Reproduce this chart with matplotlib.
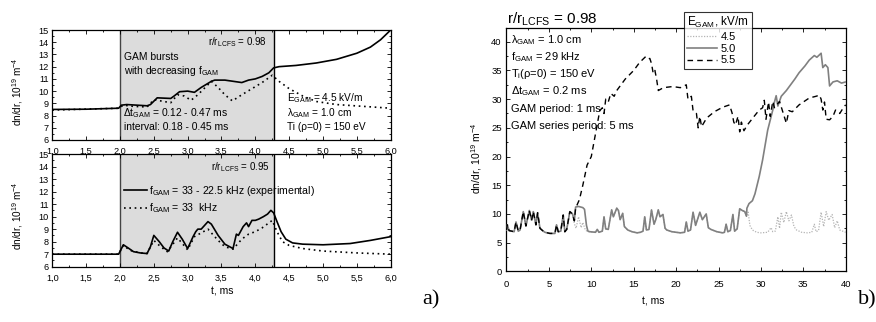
import numpy as np
import matplotlib
matplotlib.use("Agg")
import matplotlib.pyplot as plt
from matplotlib.ticker import FixedLocator, MultipleLocator

plt.rcParams['font.family'] = ['Liberation Sans', 'DejaVu Sans']
plt.rcParams['mathtext.fontset'] = 'custom'
plt.rcParams['mathtext.rm'] = 'Liberation Sans'
plt.rcParams['mathtext.it'] = 'Liberation Sans:italic'
plt.rcParams['mathtext.bf'] = 'Liberation Sans:bold'

# ---------------- data: panel a), top (r/rLCFS = 0.98) ----------------
top_solid_t = [1.0, 1.5, 1.98, 2.02, 2.1, 2.4, 2.45, 2.55, 2.75, 2.8, 2.88, 3.0, 3.1, 3.2,
               3.35, 3.4, 3.55, 3.8, 3.9, 4.0, 4.1, 4.2, 4.27, 4.35, 4.6, 4.9, 5.2, 5.5,
               5.7, 5.85, 6.0]
top_solid_y = [8.5, 8.52, 8.6, 8.85, 8.9, 8.8, 8.9, 9.45, 9.4, 9.6, 9.95, 10.0, 9.9, 10.3,
               10.8, 10.9, 10.9, 10.7, 10.9, 11.0, 11.2, 11.5, 11.9, 12.0, 12.1, 12.3, 12.6,
               13.1, 13.6, 14.2, 15.0]
top_dot_t = [1.0, 1.98, 2.05, 2.2, 2.4, 2.5, 2.6, 2.75, 2.85, 2.95, 3.05, 3.15, 3.35, 3.45,
             3.55, 3.66, 3.8, 3.95, 4.1, 4.25, 4.35, 4.5, 4.7, 4.9, 5.2, 5.6, 6.0]
top_dot_y = [8.45, 8.6, 8.85, 8.75, 8.7, 9.3, 9.2, 9.05, 9.7, 9.6, 9.25, 9.7, 10.8, 10.3,
             9.7, 9.2, 9.7, 10.2, 10.7, 11.3, 10.8, 10.2, 9.6, 9.15, 8.9, 8.75, 8.6]

# ---------------- data: panel a), bottom (r/rLCFS = 0.95) ----------------
bot_solid_t = [1.0, 1.98, 2.05, 2.12, 2.2, 2.3, 2.4, 2.45, 2.5, 2.58, 2.65, 2.72, 2.78, 2.85,
               2.92, 3.0, 3.08, 3.12, 3.15, 3.2, 3.3, 3.35, 3.45, 3.55, 3.67, 3.72, 3.75,
               3.82, 3.87, 3.9, 3.95, 4.0, 4.05, 4.12, 4.18, 4.23, 4.27, 4.32, 4.38, 4.45,
               4.55, 4.7, 5.0, 5.4, 5.7, 6.0]
bot_solid_y = [7.0, 7.0, 7.75, 7.5, 7.2, 7.1, 7.05, 7.6, 8.5, 8.0, 7.5, 7.25, 8.0, 8.75,
               8.2, 7.45, 8.4, 8.8, 9.0, 9.0, 9.6, 9.4, 8.5, 7.8, 7.45, 8.6, 8.5,
               9.2, 9.5, 9.2, 9.7, 9.7, 9.8, 10.0, 10.2, 10.5, 10.3, 9.6, 8.8, 8.2,
               7.9, 7.8, 7.75, 7.85, 8.1, 8.4]
bot_dot_t = [1.0, 1.98, 2.05, 2.15, 2.3, 2.4, 2.5, 2.6, 2.7, 2.85, 3.0, 3.1, 3.2, 3.3, 3.45,
             3.55, 3.67, 3.8, 3.9, 4.0, 4.1, 4.25, 4.32, 4.4, 4.5, 4.7, 5.0, 5.5, 6.0]
bot_dot_y = [7.0, 7.0, 7.7, 7.3, 7.1, 7.05, 8.1, 7.6, 7.2, 8.3, 7.35, 8.4, 8.7, 9.0, 8.1,
             7.6, 7.4, 8.2, 8.6, 8.8, 9.1, 9.7, 8.8, 8.0, 7.7, 7.45, 7.25, 7.1, 7.0]

gam_window = [2.0, 4.27]
a_xticks = [1.0, 1.5, 2.0, 2.5, 3.0, 3.5, 4.0, 4.5, 5.0, 5.5, 6.0]
a_top_xticklabels = ['1.0', '1.5', '2.0', '2.5', '3.0', '3.5', '4.0', '4.5', '5.0', '5.5', '6.0']
a_bot_xticklabels = ['1,0', '1,5', '2,0', '2,5', '3,0', '3,5', '4,0', '4,5', '5,0', '5,5', '6,0']
a_yticks = [6, 7, 8, 9, 10, 11, 12, 13, 14, 15]

# ---------------- data: panel b) ----------------
# shared burst pattern (all three E_GAM values) up to t = 28.3 ms
base_t = [0.0, 0.1, 0.3, 0.9, 1.12, 1.39, 1.6, 1.98, 2.29, 2.69, 2.96, 3.16, 3.47, 3.67,
          3.94, 4.25, 4.53, 5.12, 5.71, 5.9, 6.1, 6.4, 6.69, 6.88, 7.1, 7.47, 7.78,
          8.0, 8.15, 8.5, 9.0, 9.2, 9.43, 9.6, 9.82, 10.5, 10.7, 10.9, 11.3, 11.5, 11.7,
          12.0, 12.4, 12.6, 13.0, 13.2, 13.4, 13.7, 13.9, 14.3, 14.8, 15.4, 15.8, 16.1,
          16.3, 16.5, 16.8, 17.1, 17.4, 17.6, 17.9, 18.1, 18.45, 18.7, 18.9, 19.5, 20.5,
          21.0, 21.2, 21.4, 21.7, 22.0, 22.3, 22.8, 23.1, 23.55, 23.8, 24.1, 24.8, 25.5,
          25.7, 25.9, 26.1, 26.4, 26.7, 26.9, 27.2, 27.5, 27.8, 28.1, 28.3]
base_y = [7.2, 8.1, 7.1, 6.9, 8.6, 7.0, 7.2, 10.4, 7.9, 10.6, 8.9, 10.4, 8.1, 10.2,
          7.5, 7.1, 6.8, 6.6, 6.6, 8.1, 6.9, 7.0, 9.8, 6.9, 7.3, 10.4, 10.0,
          8.8, 11.2, 11.3, 11.1, 10.8, 8.0, 7.0, 6.9, 6.8, 7.3, 6.8, 7.0, 9.5, 7.4,
          7.3, 10.7, 9.5, 11.0, 10.6, 9.0, 10.1, 7.8, 7.2, 6.9, 6.7, 6.8, 7.0,
          9.5, 7.2, 7.3, 10.7, 8.2, 9.0, 10.7, 9.5, 9.9, 7.5, 7.2, 6.9, 6.7,
          6.8, 8.6, 7.0, 7.2, 10.3, 8.0, 10.3, 9.0, 10.0, 7.6, 7.3, 6.9, 6.7,
          6.8, 8.2, 6.9, 7.1, 9.9, 7.0, 7.4, 10.9, 10.6, 10.4, 9.6]

# E_GAM = 4.5 kV/m: own segments
e45_mid_t = [8.0, 8.2, 8.5, 8.8, 9.0, 9.3, 9.6]
e45_mid_y = [8.3, 7.5, 9.5, 7.6, 8.5, 7.2, 6.9]
e45_tail_t = [28.5, 28.7, 29.0, 29.5, 30.0, 30.8, 31.2, 31.4, 31.7, 32.0, 32.2, 32.4, 32.7,
              33.0, 33.3, 33.6, 33.9, 34.2, 34.8, 35.5, 36.0, 36.3, 36.5, 36.8, 37.1, 37.4,
              37.7, 38.0, 38.4, 38.7, 39.0, 39.3, 39.8, 40.0]
e45_tail_y = [10.3, 8.0, 7.2, 6.8, 6.7, 6.8, 7.6, 6.9, 7.0, 9.5, 7.5, 10.3, 8.5,
              10.4, 8.8, 9.8, 7.8, 7.2, 6.8, 6.7, 6.8, 8.2, 6.9, 7.1, 10.3, 7.8,
              10.4, 8.9, 9.9, 7.6, 8.8, 7.2, 6.9, 6.8]

# E_GAM = 5.0 kV/m: rise after t = 28.3 ms
e50_rise_t = [28.35, 28.6, 29.0, 29.3, 29.8, 30.2, 30.8, 31.4, 31.6, 31.8, 32.0, 32.4, 33.0,
              34.0, 34.5, 35.2, 35.7, 36.3, 36.6, 37.1, 37.3, 37.6, 37.9, 38.1, 38.5, 39.0,
              39.5, 40.0]
e50_rise_y = [11.0, 11.8, 12.3, 13.5, 16.5, 19.4, 24.6, 28.1, 29.5, 30.6, 28.8, 30.5, 31.5,
              33.5, 34.6, 35.8, 36.8, 37.6, 37.3, 38.0, 35.5, 36.0, 35.5, 32.3, 33.0, 33.2,
              32.8, 33.0]

# E_GAM = 5.5 kV/m: rise after t = 8 ms
e55_rise_t = [8.15, 8.6, 9.0, 9.5, 10.0, 10.5, 11.0, 11.3, 11.5, 11.7, 12.0, 12.3, 12.7,
              13.0, 14.0, 15.0, 15.7, 16.4, 16.7, 16.9, 17.1, 17.3, 17.5, 17.7, 17.9, 18.5,
              19.6, 20.5, 21.2, 21.4, 21.8, 22.0, 22.4, 22.6, 22.8, 23.0, 23.6, 24.5, 25.5,
              26.3, 26.6, 26.8, 27.0, 27.3, 27.5, 27.7, 28.0, 28.4, 29.2, 29.8, 30.2, 30.4,
              30.6, 30.9, 31.1, 31.4, 31.6, 32.2, 33.0, 33.3, 33.7, 34.5, 35.7, 36.5, 36.9,
              37.1, 37.3, 37.5, 37.7, 38.1, 38.5, 38.8, 39.3, 39.8, 40.0]
e55_rise_y = [11.0, 12.5, 15.0, 18.5, 20.0, 24.0, 28.0, 28.5, 27.5, 30.0, 29.5, 31.0, 30.5,
              31.5, 33.5, 35.0, 36.4, 37.4, 37.0, 37.1, 36.2, 34.5, 35.0, 33.5, 31.5, 32.0,
              32.2, 32.0, 32.5, 30.0, 30.5, 28.0, 27.5, 25.0, 27.0, 25.2, 26.7, 27.8, 28.6,
              29.0, 27.6, 26.0, 25.5, 27.0, 24.3, 26.0, 24.5, 25.5, 27.0, 28.1, 28.5, 29.8,
              26.5, 29.5, 27.0, 29.6, 28.5, 29.6, 25.8, 28.0, 27.8, 29.0, 30.2, 30.5, 30.7,
              30.0, 28.1, 29.5, 26.5, 26.4, 27.0, 28.1, 27.5, 28.7, 29.0]

e_labels = ['4.5', '5.0', '5.5']
b_xticks = [0, 5, 10, 15, 20, 25, 30, 35, 40]
b_yticks = [0, 5, 10, 15, 20, 25, 30, 35, 40]

# ---------------- build series from the pieces ----------------
n_mid = base_t.index(7.78) + 1
n_resume = base_t.index(9.82)
n_end45 = base_t.index(28.3) + 1
e45_t = base_t[:n_mid] + e45_mid_t + base_t[n_resume:n_end45] + e45_tail_t
e45_y = base_y[:n_mid] + e45_mid_y + base_y[n_resume:n_end45] + e45_tail_y
e50_t = base_t + e50_rise_t
e50_y = base_y + e50_rise_y
n55 = base_t.index(8.0) + 1
e55_t = base_t[:n55] + e55_rise_t
e55_y = base_y[:n55] + e55_rise_y

W, H = 876, 322
fig = plt.figure(figsize=(W / 100, H / 100), dpi=100)


def rect(l, t, r, b):
    return [l / W, 1 - b / H, (r - l) / W, (b - t) / H]


def fx(x):
    return x / W


def fy(y):
    return 1 - y / H


ax1 = fig.add_axes(rect(52.3, 30, 390.7, 140))
ax2 = fig.add_axes(rect(52.3, 154, 390.7, 266.7))
ax3 = fig.add_axes(rect(506.5, 28, 845.7, 271.3))

for ax in (ax1, ax2):
    ax.axvspan(gam_window[0], gam_window[1], facecolor='#dcdcdc', edgecolor='none', zorder=0)
    ax.axvline(gam_window[0], color='#444444', lw=1.0, zorder=1)
    ax.axvline(gam_window[1], color='black', lw=1.0, zorder=1)
    ax.set_xlim(1.0, 6.0)
    ax.set_ylim(6, 15)
    ax.xaxis.set_major_locator(FixedLocator(a_xticks))
    ax.xaxis.set_minor_locator(MultipleLocator(0.25))
    ax.yaxis.set_major_locator(FixedLocator(a_yticks))
    ax.yaxis.set_minor_locator(MultipleLocator(0.5))
    ax.set_yticklabels([str(v) for v in a_yticks])
    ax.tick_params(which='both', direction='in', top=True, right=True, width=0.6,
                   labelsize=6.6, colors='black')
    ax.tick_params(which='major', length=3)
    ax.tick_params(which='minor', length=1.5)
    ax.tick_params(axis='x', pad=5.0)
    ax.tick_params(axis='y', pad=2.5)
    for s in ax.spines.values():
        s.set_linewidth(0.9)

ax1.plot(top_solid_t, top_solid_y, color='black', lw=1.2, zorder=3)
ax1.plot(top_dot_t, top_dot_y, color='black', lw=1.2, ls=(0, (1, 2.2)), zorder=3)
ax1.set_xticklabels(a_top_xticklabels)

l1, = ax2.plot(bot_solid_t, bot_solid_y, color='black', lw=1.2, zorder=3)
l2, = ax2.plot(bot_dot_t, bot_dot_y, color='black', lw=1.2, ls=(0, (1, 2.2)), zorder=3)
ax2.set_xticklabels(a_bot_xticklabels)
ax2.legend([l1, l2], ['f$_{\\rm GAM}$ = 33 - 22.5 kHz (experimental)', 'f$_{\\rm GAM}$ = 33  kHz'],
           loc='upper left', bbox_to_anchor=(fx(124), fy(184)), bbox_transform=fig.transFigure,
           frameon=False, fontsize=7.6, handlelength=2.2, handletextpad=0.2,
           labelspacing=0.35, borderpad=0, borderaxespad=0)

ylab = 'dn/dr, 10$^{19}$ m$^{-4}$'
fig.text(fx(18), fy(92), ylab, rotation=90, ha='center', va='center', fontsize=7.2)
fig.text(fx(18), fy(216), ylab, rotation=90, ha='center', va='center', fontsize=7.2)
fig.text(fx(222), fy(292), 't, ms', ha='center', va='center', fontsize=7.4)

# annotations panel a) top
fig.text(fx(267), fy(42), 'r/r$_{\\rm LCFS}$ = 0.98', ha='right', va='center', fontsize=7)
fig.text(fx(124), fy(57), 'GAM bursts', ha='left', va='center', fontsize=7.4)
fig.text(fx(124), fy(71), 'with decreasing f$_{\\rm GAM}$', ha='left', va='center', fontsize=7.4)
fig.text(fx(123), fy(113), '\u0394t$_{\\rm GAM}$ = 0.12 - 0.47 ms', ha='left', va='center', fontsize=7.4)
fig.text(fx(124), fy(127), 'interval: 0.18 - 0.45 ms', ha='left', va='center', fontsize=7.4)
fig.text(fx(287), fy(98), 'E$_{\\rm GAM}$ = 4.5 kV/m', ha='left', va='center', fontsize=7.3)
fig.text(fx(287), fy(113), '\u03bb$_{\\rm GAM}$ = 1.0 cm', ha='left', va='center', fontsize=7.3)
fig.text(fx(287), fy(127), 'Ti (\u03c1=0) = 150 eV', ha='left', va='center', fontsize=7.3)
# annotation panel a) bottom
fig.text(fx(270), fy(167), 'r/r$_{\\rm LCFS}$ = 0.95', ha='right', va='center', fontsize=7)

# ---------------- panel b) ----------------
h45, = ax3.plot(e45_t, e45_y, color='#b4b4b4', lw=0.9, ls=(0, (1, 1.2)), zorder=2)
h50, = ax3.plot(e50_t, e50_y, color='#808080', lw=1.2, zorder=3)
h55, = ax3.plot(e55_t, e55_y, color='black', lw=1.0, ls=(0, (4, 3)), zorder=4)
ax3.set_xlim(0, 40)
ax3.set_ylim(0, 42.4)
ax3.xaxis.set_major_locator(FixedLocator(b_xticks))
ax3.yaxis.set_major_locator(FixedLocator(b_yticks))
ax3.xaxis.set_minor_locator(MultipleLocator(2.5))
ax3.yaxis.set_minor_locator(MultipleLocator(2.5))
ax3.set_xticklabels([str(v) for v in b_xticks])
ax3.set_yticklabels([str(v) for v in b_yticks])
ax3.tick_params(which='both', direction='in', top=True, right=True, width=0.6,
                labelsize=6.8, colors='black')
ax3.tick_params(which='major', length=3)
ax3.tick_params(which='minor', length=1.5)
ax3.tick_params(axis='x', pad=6)
ax3.tick_params(axis='y', pad=3.5)
for s in ax3.spines.values():
    s.set_linewidth(0.9)

fig.text(fx(477), fy(158), ylab, rotation=90, ha='center', va='center', fontsize=7.5)
fig.text(fx(653), fy(301), 't, ms', ha='center', va='center', fontsize=7.5)
fig.text(fx(507), fy(19), 'r/r$_{\\rm LCFS}$ = 0.98', ha='left', va='center', fontsize=11)

b_notes = ['\u03bb$_{\\rm GAM}$ = 1.0 cm', 'f$_{\\rm GAM}$ = 29 kHz', 'T$_{\\rm i}$(\u03c1=0) = 150 eV',
           '\u0394t$_{\\rm GAM}$ = 0.2 ms', 'GAM period: 1 ms', 'GAM series period: 5 ms']
for i, s in enumerate(b_notes):
    fig.text(fx(511), fy(40 + 17.2 * i), s, ha='left', va='center', fontsize=8)

leg = fig.legend([h45, h50, h55], e_labels, title='E$_{\\rm GAM}$, kV/m',
                 loc='upper left', bbox_to_anchor=(fx(684), fy(12)),
                 frameon=True, fancybox=False, edgecolor='black', fontsize=8,
                 title_fontsize=8.5, handlelength=2.7, handletextpad=0.3,
                 labelspacing=0.15, borderpad=0.3, borderaxespad=0, alignment='left')
leg.get_frame().set_linewidth(0.8)

fig.text(fx(422), fy(300), 'a)', ha='left', va='center', fontsize=16, family='Liberation Serif')
fig.text(fx(858), fy(300), 'b)', ha='left', va='center', fontsize=16, family='Liberation Serif')

fig.savefig('out.png', dpi=100)
